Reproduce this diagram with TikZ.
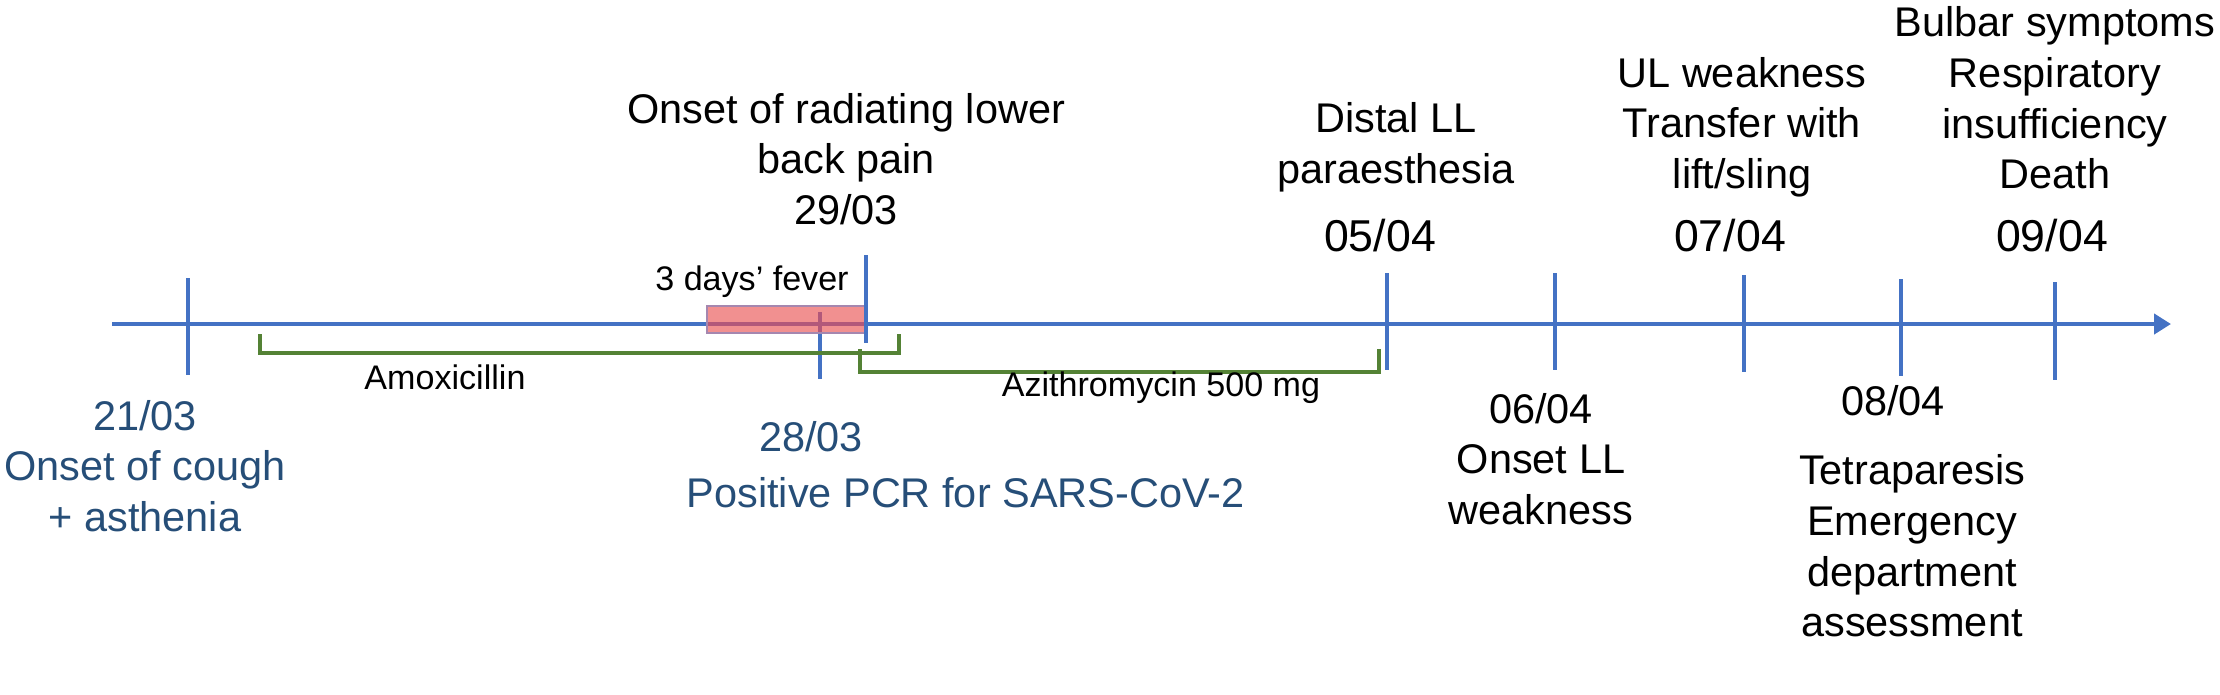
\documentclass[tikz,border=0pt]{standalone}
\usepackage{fontspec}
\setmainfont{Liberation Sans}
\usetikzlibrary{arrows.meta}

\definecolor{axisblue}{RGB}{68,114,196}
\definecolor{dateblue}{RGB}{38,78,120}
\definecolor{drugsgreen}{RGB}{84,130,53}
\definecolor{feverred}{RGB}{240,132,132}
\definecolor{feverframe}{RGB}{165,135,175}
\definecolor{feveraxis}{RGB}{178,88,122}

\begin{document}
\begin{tikzpicture}[x=0.1mm,y=-0.1mm]

% Styles
\tikzset{
    tick/.style={draw=axisblue,line width=1.2pt},
    bracket/.style={draw=drugsgreen,line width=1.1pt},
    event/.style={align=center,inner sep=0pt,font=\fontsize{11.8}{14.4}\selectfont},
    bigdate/.style={inner sep=0pt,font=\fontsize{12.7}{15}\selectfont},
    drug/.style={inner sep=0pt,font=\fontsize{9.7}{12}\selectfont},
}
\useasboundingbox (0,0) rectangle (2220,694);

% Time axis
\coordinate (start) at (112,324);
\coordinate (end) at (2171,324);
\draw
[
    axisblue,
    line width=1.3pt,
    -{Triangle[length=1.7mm,width=2mm]}
] (start) -- (end);

% Ticks under the fever box
\draw[tick] (188,278) -- ++(0,97);
\draw[tick] (820,312) -- ++(0,67);

% Fever box
\draw
[
    fill=feverred,
    fill opacity=0.9,
    draw=feverframe,
    line width=0.8pt
] (707,306) rectangle (866,333);
\draw[feveraxis,line width=1.3pt] (708,324) -- (866,324);
\draw[feveraxis,line width=1.2pt] (820,312) -- (820,332);
\node[drug] (fever) at (752,282) {3 days’ fever};

% Remaining ticks
\draw[tick] (866,255) -- ++(0,88);
\draw[tick] (1387,273) -- ++(0,97);
\draw[tick] (1555,273) -- ++(0,97);
\draw[tick] (1744,275) -- ++(0,97);
\draw[tick] (1901,279) -- ++(0,97);
\draw[tick] (2055,282) -- ++(0,98);

% Treatment brackets
\draw[bracket] (260,334) -- ++(0,19) -- ++(639,0) -- ++(0,-19);
\node[drug] (amox) at (445,377) {Amoxicillin};
\draw[bracket] (860,349) -- ++(0,23) -- ++(519,0) -- ++(0,-23);
\node[drug] (azith) at (1161,388) {Azithromycin 500 mg};

% Events below the axis
\node[event,text=dateblue] (d2103) at (145,466) {21/03\\Onset of cough\\+ asthenia};
\node[event,text=dateblue] (d2803) at (811,437) {28/03};
\node[event,text=dateblue,anchor=west] (pcr) at (686,493) {Positive PCR for SARS-CoV-2};
\node[event] (d0604) at (1541,459) {06/04\\Onset LL\\weakness};
\node[event] (d0804) at (1893,401) {08/04};
\node[event] (ed) at (1912,546) {Tetraparesis\\Emergency\\department\\assessment};

% Events above the axis
\node[event] (d2903) at (846,159) {Onset of radiating lower\\back pain\\29/03};
\node[event] (para) at (1396,147) {Distal LL\\paraesthesia};
\node[bigdate] (d0504) at (1380,236) {05/04};
\node[event] (ul) at (1742,127) {UL weakness\\Transfer with\\lift/sling};
\node[bigdate] (d0704) at (1730,236) {07/04};
\node[event] (death) at (2055,98) {Bulbar symptoms\\Respiratory\\insufficiency\\Death};
\node[bigdate] (d0904) at (2052,236) {09/04};
\end{tikzpicture}
\end{document}
